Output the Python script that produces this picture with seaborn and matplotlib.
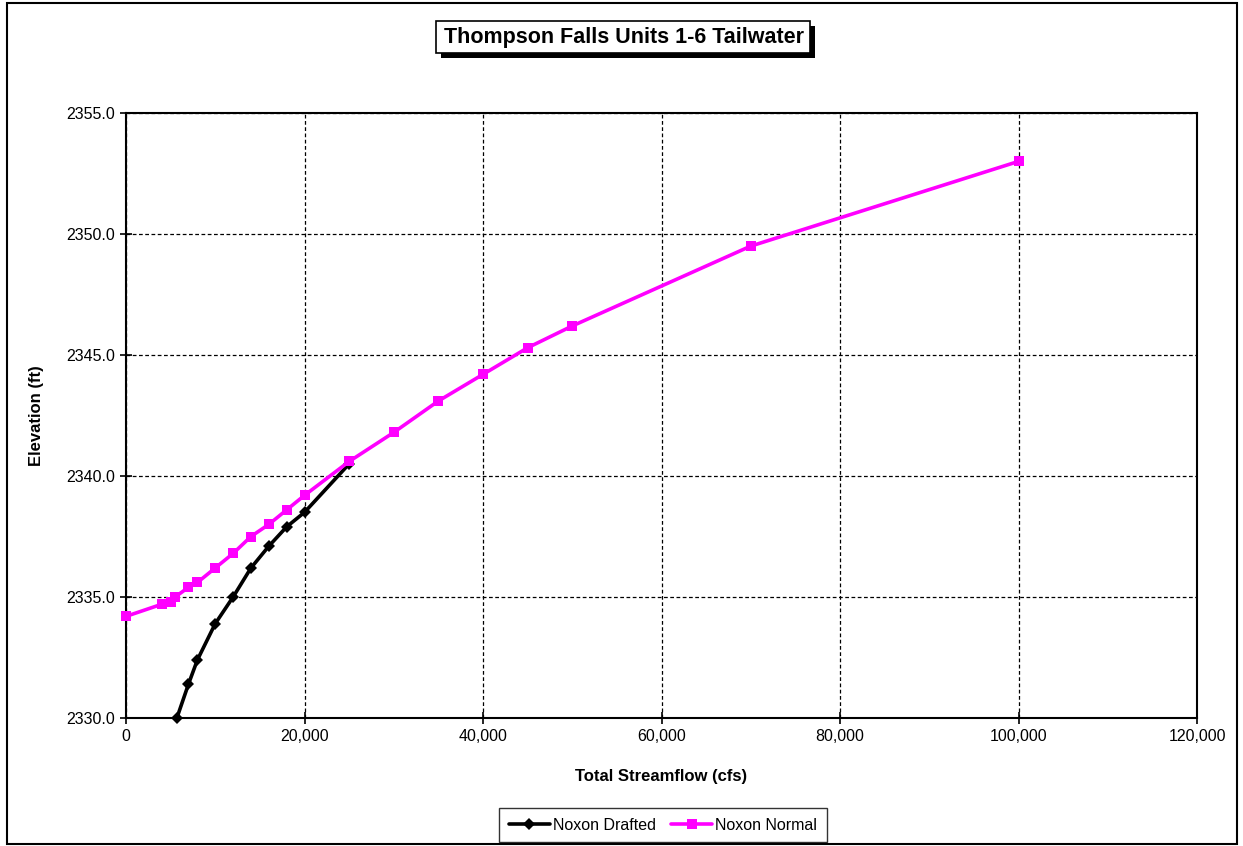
import matplotlib
matplotlib.use("Agg")
import matplotlib.pyplot as plt
import matplotlib.ticker as mticker
from matplotlib.patches import Rectangle
import pandas as pd
import seaborn as sns

# Values
drafted_flow = [5700, 7000, 8000, 10000, 12000, 14000, 16000, 18000, 20000, 25000]
drafted_elev = [2330.0, 2331.4, 2332.4, 2333.9, 2335.0, 2336.2, 2337.1, 2337.9, 2338.5, 2340.5]

normal_flow = [0, 4000, 5000, 5500, 7000, 8000, 10000, 12000, 14000, 16000, 18000, 20000,
               25000, 30000, 35000, 40000, 45000, 50000, 70000, 100000]
normal_elev = [2334.2, 2334.7, 2334.8, 2335.0, 2335.4, 2335.6, 2336.2, 2336.8, 2337.5, 2338.0,
               2338.6, 2339.2, 2340.6, 2341.8, 2343.1, 2344.2, 2345.3, 2346.2, 2349.5, 2353.0]

series_names = ["Noxon Drafted", "Noxon Normal"]

df = pd.concat([
    pd.DataFrame({"flow": drafted_flow, "elev": drafted_elev, "series": series_names[0]}),
    pd.DataFrame({"flow": normal_flow, "elev": normal_elev, "series": series_names[1]}),
], ignore_index=True)

sns.set_style("white")
plt.rcParams['font.family'] = ['Liberation Sans', 'DejaVu Sans']
plt.rcParams['text.color'] = 'black'
plt.rcParams['axes.labelcolor'] = 'black'
plt.rcParams['xtick.color'] = 'black'
plt.rcParams['ytick.color'] = 'black'

W, H = 1243, 846
fig = plt.figure(figsize=(W / 100, H / 100), dpi=100)
ax = fig.add_axes([126 / W, 1 - 718 / H, (1197 - 126) / W, (718 - 113) / H])

sns.lineplot(data=df, x="flow", y="elev", hue="series", style="series",
             palette={series_names[0]: "black", series_names[1]: "#ff00ff"},
             markers={series_names[0]: "D", series_names[1]: "s"},
             dashes=False, sort=False, linewidth=2.6, markersize=6.5,
             markeredgewidth=0, ax=ax, legend=True, clip_on=False, zorder=3)

ax.set_xlim(0, 120000)
ax.set_ylim(2330, 2355)
ax.xaxis.set_major_locator(mticker.MultipleLocator(20000))
ax.yaxis.set_major_locator(mticker.MultipleLocator(5))
ax.xaxis.set_major_formatter(mticker.StrMethodFormatter("{x:,.0f}"))
ax.yaxis.set_major_formatter(mticker.StrMethodFormatter("{x:.1f}"))
ax.grid(True, color="black", linestyle=(0, (3, 2)), linewidth=0.9)
ax.set_axisbelow(True)
ax.tick_params(axis="both", direction="inout", length=8, width=1.2, labelsize=11.5,
               bottom=True, left=True, pad=4)
for side in ("top", "bottom", "left", "right"):
    ax.spines[side].set_visible(True)
    ax.spines[side].set_color("black")
    ax.spines[side].set_linewidth(1.5)

ax.set_xlabel("Total Streamflow (cfs)", fontsize=12, fontweight="bold", labelpad=18)
ax.set_ylabel("Elevation (ft)", fontsize=12, fontweight="bold", labelpad=16)

# legend below the plot
handles, labels = ax.get_legend_handles_labels()
leg = ax.legend(handles, labels, loc="center", bbox_to_anchor=(663 / W, 1 - 825 / H),
                bbox_transform=fig.transFigure, ncol=2, frameon=True, fancybox=False,
                edgecolor="black", fontsize=11.5, handlelength=2.6, handletextpad=0.2,
                columnspacing=0.9, borderpad=0.6)
leg.get_frame().set_linewidth(1.0)

# title in a box with a drop shadow
fig.patches.append(Rectangle((441 / W, 1 - 58 / H), (815 - 441) / W, (58 - 26) / H,
                             transform=fig.transFigure, facecolor="black", edgecolor="none"))
fig.patches.append(Rectangle((436 / W, 1 - 53 / H), (810 - 436) / W, (53 - 21) / H,
                             transform=fig.transFigure, facecolor="white", edgecolor="black",
                             linewidth=1.2))
fig.text(624 / W, 1 - 38 / H, "Thompson Falls Units 1-6 Tailwater",
         ha="center", va="center", fontsize=15.5, fontweight="bold")

# outer chart frame
fig.patches.append(Rectangle((7 / W, 1 - 844 / H), (1237 - 7) / W, (844 - 3) / H,
                             transform=fig.transFigure, fill=False, edgecolor="black",
                             linewidth=1.5))

fig.savefig("out.png", dpi=100)
